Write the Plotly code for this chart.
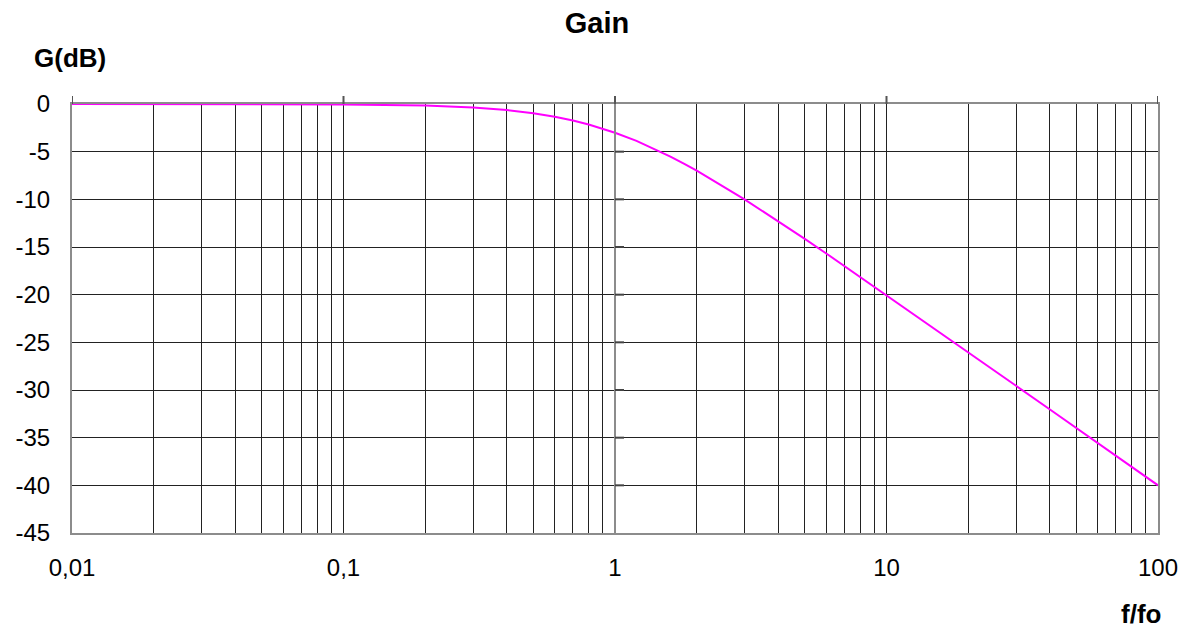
import plotly.graph_objects as go

freq = [0.01, 0.02, 0.03, 0.04, 0.05, 0.06, 0.07, 0.08, 0.09,
        0.1, 0.2, 0.3, 0.4, 0.5, 0.6, 0.7, 0.8, 0.9,
        1, 1.2, 1.4, 1.6, 1.8, 2, 3, 4, 5, 6, 7, 8, 9,
        10, 20, 30, 40, 50, 60, 70, 80, 90, 100]
gain_db = [0.0, 0.0, 0.0, -0.01, -0.01, -0.02, -0.02, -0.03, -0.04,
           -0.04, -0.17, -0.37, -0.64, -0.97, -1.34, -1.73, -2.15, -2.57,
           -3.01, -3.87, -4.71, -5.51, -6.27, -6.99, -10.0, -12.3, -14.15, -15.68, -17.0, -18.13, -19.14,
           -20.04, -26.03, -29.55, -32.04, -33.98, -35.56, -36.9, -38.06, -39.09, -40.0]

grid_x = [m * 10 ** e for e in (-2, -1, 0, 1) for m in range(1, 10)] + [100]
decade_vals = [0.01, 0.1, 1, 10, 100]
decade_text = ["0,01", "0,1", "1", "10", "100"]
x_ticktext = [decade_text[decade_vals.index(v)] if v in decade_vals else "" for v in grid_x]
y_ticks = [0, -5, -10, -15, -20, -25, -30, -35, -40, -45]
y_ticktext = ["0", "-5", "-10", "-15", "-20", "-25", "-30", "-35", "-40", "-45"]

FONT = "Liberation Sans, Arial, sans-serif"

W, H = 1190, 630
L, R, T, B = 72, 32, 104, 97
PW, PH = W - L - R, H - T - B

fig = go.Figure()
fig.add_trace(go.Scatter(x=freq, y=gain_db, mode="lines",
                         line=dict(color="#FF00FF", width=2), showlegend=False,
                         hoverinfo="skip"))

fig.update_layout(
    width=W, height=H,
    paper_bgcolor="white", plot_bgcolor="white",
    margin=dict(l=L, r=R, t=T, b=B),
    title=dict(text="<b>Gain</b>", x=597 / W, xanchor="center", y=1 - 23 / H,
               yanchor="middle", font=dict(family=FONT, size=29, color="black")),
    font=dict(family=FONT, size=24, color="black"),
)

fig.update_xaxes(type="log", range=[-2, 2], tickvals=grid_x, ticktext=x_ticktext,
                 showgrid=True, gridcolor="#222222", gridwidth=1, automargin=False,
                 showline=True, linecolor="#8c8c8c", linewidth=2, mirror=True,
                 ticks="", ticklabelstandoff=12, zeroline=False,
                 tickfont=dict(family=FONT, size=24, color="black"))
fig.update_yaxes(range=[-45, 0], tickvals=y_ticks, ticktext=y_ticktext, showgrid=True,
                 gridcolor="#222222", gridwidth=1, automargin=False,
                 showline=True, linecolor="#8c8c8c", linewidth=2, mirror=True,
                 ticks="", ticklabelstandoff=15, zeroline=False,
                 tickfont=dict(family=FONT, size=24, color="black"))

shapes = []
# vertical axis at f/fo = 1, extending a little above the plot
shapes.append(dict(type="line", xref="x", yref="paper", x0=1, x1=1, y0=0, y1=1 + 8 / PH,
                   line=dict(color="#8c8c8c", width=2), layer="above"))
# small tick marks on that axis
for yv in y_ticks[1:-1]:
    shapes.append(dict(type="line", xref="x", yref="y", xsizemode="pixel", xanchor=1,
                       x0=-8, x1=9, y0=yv, y1=yv, line=dict(color="#444444", width=2),
                       layer="above"))
# decade ticks above the 0 line
for xv in decade_vals:
    shapes.append(dict(type="line", xref="x", yref="paper", x0=xv, x1=xv,
                       y0=1, y1=1 + 8 / PH, line=dict(color="#555555", width=2)))
fig.update_layout(shapes=shapes)

fig.add_annotation(text="<b>G(dB)</b>", xref="paper", yref="paper",
                   x=(32 - L) / PW, y=1 + (T - 58) / PH, xanchor="left", yanchor="middle",
                   showarrow=False, font=dict(family=FONT, size=26, color="black"))
fig.add_annotation(text="<b>f/fo</b>", xref="paper", yref="paper",
                   x=(1163 - L) / PW, y=-(614 - (T + PH)) / PH, xanchor="right", yanchor="middle",
                   showarrow=False, font=dict(family=FONT, size=26, color="black"))

fig.write_html("out.html", config={"displayModeBar": False},
               post_script="document.body.style.margin='0';")
